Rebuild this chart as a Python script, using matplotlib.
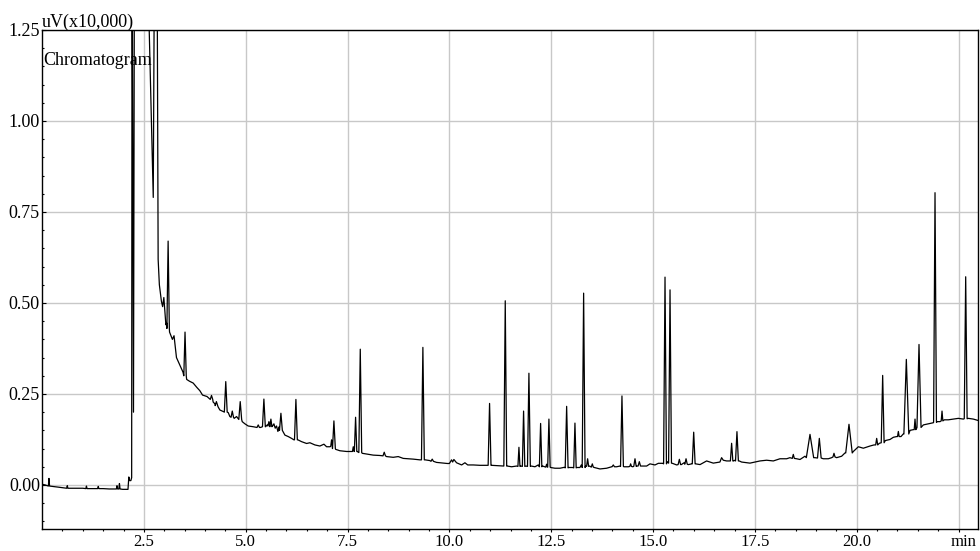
import matplotlib
matplotlib.use("Agg")
import matplotlib.pyplot as plt
import numpy as np

# background trace (min, uV x10,000); values above 1.25 are off scale
bg_t = [0.00, 0.08, 0.25, 0.40, 0.55, 0.70, 0.85, 1.00, 1.20, 1.30, 1.50, 1.65, 1.78, 1.98, 2.11,
        2.13, 2.15, 2.18, 2.20, 2.21, 2.245, 2.27, 2.60, 2.62, 2.73, 2.765, 2.82, 2.85, 2.88,
        2.93, 2.96, 2.99, 3.04, 3.06, 3.13, 3.20, 3.24, 3.30, 3.38, 3.46, 3.55, 3.62, 3.71,
        3.80, 3.874, 3.94, 4.05, 4.12, 4.20, 4.25, 4.32, 4.365, 4.463, 4.570, 4.611, 4.717,
        4.775, 4.815, 4.914, 4.980, 5.061, 5.184, 5.266, 5.364, 5.487, 5.528, 5.659, 5.692,
        5.724, 5.757, 5.790, 5.823, 5.904, 5.962, 6.044, 6.125, 6.183, 6.281, 6.371, 6.494,
        6.576, 6.698, 6.821, 6.920, 6.985, 7.067, 7.206, 7.312, 7.476, 7.599, 7.738, 7.861,
        7.966, 8.130, 8.294, 8.457, 8.621, 8.744, 8.867, 9.112, 9.276, 9.407, 9.521, 9.685,
        9.767, 9.85, 9.95, 10.00, 10.053, 10.08, 10.11, 10.176, 10.30, 10.381, 10.45, 10.585,
        10.75, 10.913, 11.035, 11.199, 11.322, 11.42, 11.527, 11.649, 11.756, 11.879, 12.010,
        12.100, 12.181, 12.288, 12.345, 12.484, 12.591, 12.714, 12.820, 12.927, 13.025,
        13.131, 13.205, 13.238, 13.344, 13.442, 13.557, 13.696, 13.860, 13.983, 14.105,
        14.187, 14.285, 14.392, 14.498, 14.605, 14.711, 14.842, 14.924, 15.047, 15.129,
        15.236, 15.35, 15.473, 15.580, 15.694, 15.760, 15.866, 15.948, 16.046, 16.153,
        16.314, 16.478, 16.641, 16.682, 16.723, 16.805, 16.870, 16.977, 17.010, 17.116,
        17.173, 17.378, 17.624, 17.787, 17.951, 18.115, 18.279, 18.360, 18.524, 18.606,
        18.729, 18.974, 19.179, 19.302, 19.384, 19.506, 19.629, 19.711, 19.916, 20.039,
        20.161, 20.325, 20.423, 20.554, 20.701, 20.816, 20.898, 20.980, 21.086, 21.14,
        21.307, 21.389, 21.471, 21.635, 21.798, 21.880, 21.978, 22.044, 22.150, 22.248,
        22.371, 22.494, 22.617, 22.740, 22.862, 22.985]
bg_v = [0.002, 0.000, -0.004, -0.006, -0.008, -0.009, -0.009, -0.009, -0.010, -0.010, -0.010,
        -0.011, -0.011, -0.012, -0.012,
        0.022, 0.012, 0.012, 0.020, 1.6, 0.20, 1.6, 1.6, 1.30, 0.79, 1.6, 1.6, 0.62, 0.55,
        0.505, 0.49, 0.515, 0.44, 0.445, 0.42, 0.40, 0.41, 0.35, 0.33, 0.31, 0.29, 0.285, 0.28,
        0.268, 0.259, 0.247, 0.243, 0.236, 0.228, 0.222, 0.215, 0.206, 0.201, 0.199, 0.188, 0.183,
        0.188, 0.182, 0.174, 0.168, 0.162, 0.160, 0.158, 0.158, 0.160, 0.165, 0.162, 0.168,
        0.156, 0.162, 0.147, 0.160, 0.149, 0.137, 0.133, 0.128, 0.124, 0.124, 0.119, 0.114,
        0.116, 0.110, 0.107, 0.112, 0.105, 0.105, 0.098, 0.094, 0.092, 0.092, 0.092, 0.087,
        0.085, 0.082, 0.081, 0.078, 0.076, 0.078, 0.073, 0.071, 0.069, 0.069, 0.067, 0.062,
        0.061, 0.060, 0.059, 0.059, 0.069, 0.063, 0.070, 0.061, 0.055, 0.061, 0.055, 0.055,
        0.054, 0.054, 0.054, 0.053, 0.052, 0.052, 0.050, 0.052, 0.052, 0.052, 0.052,
        0.050, 0.055, 0.052, 0.050, 0.048, 0.046, 0.046, 0.0485, 0.048, 0.048,
        0.048, 0.048, 0.055, 0.052, 0.052, 0.048, 0.044, 0.046, 0.050, 0.050,
        0.052, 0.050, 0.050, 0.050, 0.052, 0.052, 0.052, 0.058, 0.055, 0.0595,
        0.0595, 0.064, 0.0595, 0.055, 0.056, 0.061, 0.056, 0.058, 0.058, 0.056,
        0.066, 0.060, 0.063, 0.075, 0.068, 0.066, 0.066, 0.066, 0.068, 0.066,
        0.063, 0.060, 0.066, 0.068, 0.066, 0.072, 0.072, 0.075, 0.072, 0.070,
        0.079, 0.075, 0.072, 0.072, 0.075, 0.075, 0.079, 0.088, 0.092, 0.105,
        0.101, 0.107, 0.110, 0.1145, 0.122, 0.125, 0.131, 0.133, 0.133, 0.140,
        0.150, 0.152, 0.156, 0.165, 0.169, 0.171, 0.174, 0.174, 0.179, 0.179,
        0.181, 0.183, 0.181, 0.183, 0.181, 0.177]

# resolved peaks: retention time, apex, foot level, half width at base
peak_rt = [0.17, 0.62, 1.09, 1.38, 1.84, 1.90,
           3.095, 3.51, 4.16, 4.28, 4.51, 4.67, 4.865, 5.307, 5.446, 5.569, 5.618, 5.864,
           6.232, 7.107, 7.165, 7.64, 7.697, 7.812, 8.40, 9.349, 9.578,
           10.986, 11.371, 11.707, 11.821, 11.952, 12.239, 12.386, 12.443, 12.878, 13.082,
           13.295, 13.393, 13.508, 14.023, 14.236, 14.449, 14.556, 14.662, 15.293, 15.416,
           15.645, 15.809, 15.997,
           16.928, 17.059, 18.442, 18.852, 19.081, 19.441, 19.809, 20.489, 20.636, 21.021,
           21.217, 21.430, 21.528, 21.921, 22.093, 22.674]
peak_top = [0.018, -0.002, -0.003, -0.004, -0.002, 0.004,
            0.67, 0.42, 0.246, 0.229, 0.284, 0.203, 0.229, 0.165, 0.236, 0.174, 0.181, 0.197,
            0.235, 0.124, 0.176, 0.105, 0.186, 0.373, 0.090, 0.378, 0.071,
            0.224, 0.506, 0.1035, 0.203, 0.307, 0.169, 0.057, 0.181, 0.216, 0.170,
            0.527, 0.072, 0.058, 0.055, 0.2445, 0.058, 0.072, 0.064, 0.571, 0.536,
            0.0705, 0.072, 0.145,
            0.1145, 0.1465, 0.084, 0.139, 0.128, 0.087, 0.1667, 0.128, 0.301, 0.147,
            0.345, 0.181, 0.386, 0.803, 0.203, 0.572]
peak_foot = [-0.003, -0.009, -0.010, -0.010, -0.011, -0.011,
             0.43, 0.30, 0.235, 0.218, 0.200, 0.186, 0.180, 0.158, 0.160, 0.162, 0.160, 0.150,
             0.124, 0.106, 0.100, 0.092, 0.092, 0.089, 0.080, 0.069, 0.065,
             0.054, 0.052, 0.051, 0.051, 0.051, 0.050, 0.049, 0.049, 0.047, 0.047,
             0.048, 0.051, 0.049, 0.050, 0.051, 0.051, 0.051, 0.052, 0.058, 0.060,
             0.056, 0.057, 0.058,
             0.066, 0.066, 0.073, 0.075, 0.074, 0.077, 0.088, 0.110, 0.116, 0.133,
             0.140, 0.152, 0.158, 0.172, 0.176, 0.182]
peak_hw = [0.015, 0.015, 0.015, 0.015, 0.015, 0.015,
           0.03, 0.03, 0.03, 0.03, 0.035, 0.03, 0.035, 0.03, 0.035, 0.025, 0.025, 0.035,
           0.035, 0.02, 0.035, 0.02, 0.03, 0.035, 0.03, 0.035, 0.03,
           0.035, 0.035, 0.025, 0.03, 0.035, 0.03, 0.02, 0.03, 0.035, 0.03,
           0.035, 0.025, 0.025, 0.03, 0.035, 0.02, 0.03, 0.03, 0.035, 0.035,
           0.03, 0.03, 0.035,
           0.03, 0.035, 0.025, 0.09, 0.045, 0.025, 0.08, 0.025, 0.035, 0.02,
           0.06, 0.02, 0.05, 0.035, 0.02, 0.035]

x_ticks = [2.5, 5.0, 7.5, 10.0, 12.5, 15.0, 17.5, 20.0, 22.5]
x_labels = ["2.5", "5.0", "7.5", "10.0", "12.5", "15.0", "17.5", "20.0", ""]
y_ticks = [0.00, 0.25, 0.50, 0.75, 1.00, 1.25]
y_labels = ["0.00", "0.25", "0.50", "0.75", "1.00", "1.25"]

plt.rcParams["font.family"] = ["Liberation Serif", "DejaVu Serif"]
plt.rcParams["font.size"] = 13

# assemble the trace: background vertices plus three vertices per peak
bt = np.array(bg_t)
bv = np.array(bg_v)
rt = np.array(peak_rt)
hw = np.array(peak_hw)
inside = np.zeros(len(bt), dtype=bool)
for r, w in zip(rt, hw):
    inside |= (bt > r - w) & (bt < r + w)
t = np.concatenate([bt[~inside], rt - hw, rt, rt + hw])
v = np.concatenate([bv[~inside], peak_foot, peak_top, peak_foot])
order = np.argsort(t, kind="stable")

fig = plt.figure(figsize=(9.8, 5.51), dpi=100)
ax = fig.add_axes([0.0429, 0.0399, 0.9548, 0.9057])
ax.plot(t[order], v[order], color="black", lw=0.9)

ax.set_xlim(0, 22.97)
ax.set_ylim(-0.121, 1.25)
ax.set_xticks(x_ticks)
ax.set_xticklabels(x_labels, fontsize=12)
ax.set_xticks(np.arange(0.5, 23.0, 0.5), minor=True)
ax.set_yticks(y_ticks)
ax.set_yticklabels(y_labels)
ax.set_yticks(np.arange(-0.10, 1.25, 0.05), minor=True)
ax.grid(which="major", color="#c8c8c8", lw=1)
ax.set_axisbelow(True)

ax.tick_params(axis="x", which="major", direction="out", length=2.5, width=0.8, pad=1)
ax.tick_params(axis="x", which="minor", direction="out", length=1.5, width=0.8)
ax.tick_params(axis="y", which="major", direction="in", length=3, width=0.8, pad=1.5)
ax.tick_params(axis="y", which="minor", direction="in", length=1.5, width=0.8)
for side in ["left", "bottom", "top", "right"]:
    ax.spines[side].set_color("black")
    ax.spines[side].set_linewidth(1)

fig.text(42 / 980, 1 - 27 / 551, "uV(x10,000)", ha="left", va="baseline")
ax.text(0.001, 1 - (65 - 30) / 499, "Chromatogram", transform=ax.transAxes,
        ha="left", va="baseline")
fig.text(976 / 980, 1 - 546 / 551, "min", ha="right", va="baseline", fontsize=12)

fig.savefig("out.png", dpi=100)
